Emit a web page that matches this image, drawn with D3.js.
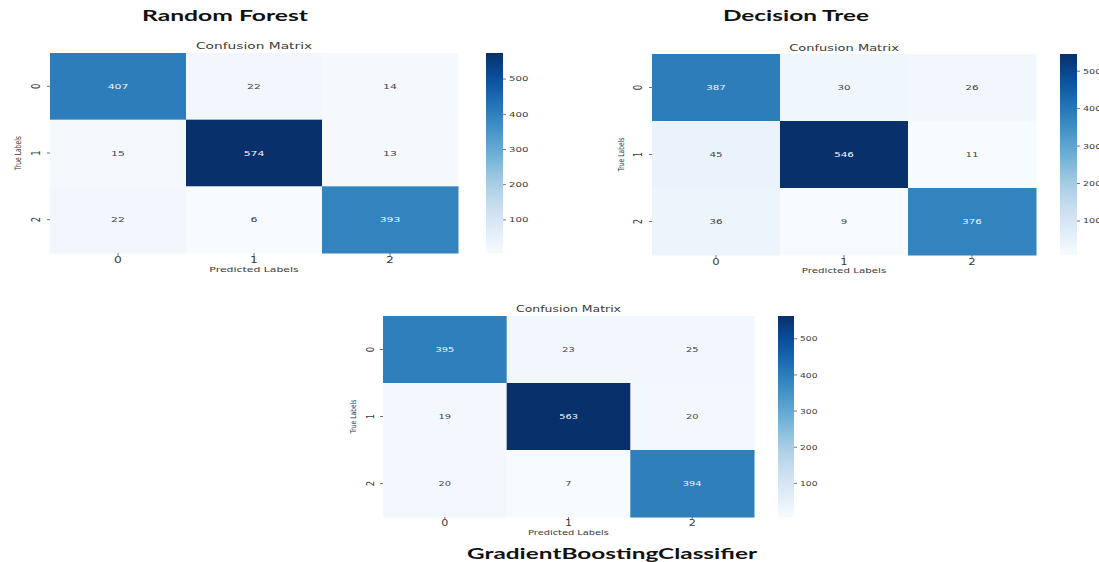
<!DOCTYPE html>
<html>
<head>
<meta charset="utf-8">
<script src="https://cdn.jsdelivr.net/npm/d3@7"></script>
<style>
  html, body { margin: 0; padding: 0; background: #ffffff; }
  svg { display: block; }
</style>
</head>
<body>
<svg id="chart" width="1099" height="562"></svg>
<script>
// ---------------- DATA ----------------
const classLabels = ["0", "1", "2"];
const modelNames = ["Random Forest", "Decision Tree", "GradientBoostingClassifier"];
const rfMatrix = [[407, 22, 14], [15, 574, 13], [22, 6, 393]];
const dtMatrix = [[387, 30, 26], [45, 546, 11], [36, 9, 376]];
const gbMatrix = [[395, 23, 25], [19, 563, 20], [20, 7, 394]];
const colorbarTicks = [100, 200, 300, 400, 500];
const subplotTitle = "Confusion Matrix";
const xAxisLabel = "Predicted Labels";
const yAxisLabel = "True Labels";

// ---------------- LAYOUT ----------------
const layouts = [
  { heat: [50, 458, 53, 253], cbar: [486, 17], k: 1.45, cmY: 46, xtY: 260, plY: 269, ytX: 35, tlX: 18,
    title: { x: 225, y: 15, w: 166, size: 15 } },
  { heat: [652, 1036, 54, 255], cbar: [1060, 17], k: 1.37, cmY: 48, xtY: 262, plY: 270, ytX: 638, tlX: 621,
    title: { x: 796, y: 15, w: 146, size: 15 } },
  { heat: [383, 754, 316, 517], cbar: [778, 16], k: 1.31, cmY: 309, xtY: 523, plY: 532, ytX: 370, tlX: 354,
    title: { x: 612, y: 553, w: 290, size: 15 } }
];
const matrices = [rfMatrix, dtMatrix, gbMatrix];

const svg = d3.select("#chart");
const defs = svg.append("defs");
const blues = d3.piecewise(d3.interpolateRgb, d3.schemeBlues[9]);
const textColor = "#3a3a3a";
const mplFont = "DejaVu Sans, sans-serif";

function luminance(c) {
  const rgb = d3.rgb(c);
  const f = v => { v /= 255; return v <= 0.03928 ? v / 12.92 : Math.pow((v + 0.055) / 1.055, 2.4); };
  return 0.2126 * f(rgb.r) + 0.7152 * f(rgb.g) + 0.0722 * f(rgb.b);
}

matrices.forEach((matrix, pi) => {
  const L = layouts[pi];
  const [x0, x1, y0, y1] = L.heat;
  const k = L.k;
  const g = svg.append("g");
  const flat = matrix.flat();
  const vmin = d3.min(flat), vmax = d3.max(flat);

  const x = d3.scaleBand().domain(classLabels).range([x0, x1]);
  const y = d3.scaleBand().domain(classLabels).range([y0, y1]);
  const color = d3.scaleSequential(blues).domain([vmin, vmax]);

  const cells = [];
  matrix.forEach((row, ri) => row.forEach((v, ci) => cells.push({ r: classLabels[ri], c: classLabels[ci], v })));

  // heatmap cells
  g.selectAll("rect.cell").data(cells).join("rect")
    .attr("class", "cell")
    .attr("x", d => x(d.c)).attr("y", d => y(d.r))
    .attr("width", x.bandwidth() + 0.5).attr("height", y.bandwidth() + 0.5)
    .attr("fill", d => color(d.v));

  // annotations
  g.selectAll("text.annot").data(cells).join("text")
    .attr("class", "annot")
    .attr("transform", d => `translate(${x(d.c) + x.bandwidth() / 2},${y(d.r) + y.bandwidth() / 2}) scale(${k},1)`)
    .attr("text-anchor", "middle").attr("dominant-baseline", "central")
    .attr("font-family", mplFont).attr("font-size", 7.5)
    .attr("fill", d => luminance(color(d.v)) < 0.408 ? "#eef5fc" : "#444444")
    .text(d => d.v);

  // x ticks
  classLabels.forEach(lbl => {
    const cx = x(lbl) + x.bandwidth() / 2;
    g.append("line").attr("x1", cx).attr("x2", cx).attr("y1", y1).attr("y2", y1 + 3)
      .attr("stroke", textColor).attr("stroke-width", 0.7);
    g.append("text")
      .attr("transform", `translate(${cx},${L.xtY}) scale(${k},1)`)
      .attr("text-anchor", "middle").attr("dominant-baseline", "central")
      .attr("font-family", mplFont).attr("font-size", 8.5).attr("fill", textColor)
      .text(lbl);
  });
  // y ticks
  classLabels.forEach(lbl => {
    const cy = y(lbl) + y.bandwidth() / 2;
    g.append("line").attr("x1", x0 - 3).attr("x2", x0).attr("y1", cy).attr("y2", cy)
      .attr("stroke", textColor).attr("stroke-width", 0.7);
    g.append("text")
      .attr("transform", `translate(${L.ytX},${cy}) scale(${k},1) rotate(-90)`)
      .attr("text-anchor", "middle").attr("dominant-baseline", "central")
      .attr("font-family", mplFont).attr("font-size", 8.5).attr("fill", textColor)
      .text(lbl);
  });

  // subplot title
  g.append("text")
    .attr("transform", `translate(${(x0 + x1) / 2},${L.cmY}) scale(${k},1)`)
    .attr("text-anchor", "middle").attr("dominant-baseline", "central")
    .attr("font-family", mplFont).attr("font-size", 9.5).attr("fill", textColor)
    .text(subplotTitle);
  // x label
  g.append("text")
    .attr("transform", `translate(${(x0 + x1) / 2},${L.plY}) scale(${k},1)`)
    .attr("text-anchor", "middle").attr("dominant-baseline", "central")
    .attr("font-family", mplFont).attr("font-size", 7.5).attr("fill", textColor)
    .text(xAxisLabel);
  // y label
  g.append("text")
    .attr("transform", `translate(${L.tlX},${(y0 + y1) / 2}) scale(${k},1) rotate(-90)`)
    .attr("text-anchor", "middle").attr("dominant-baseline", "central")
    .attr("font-family", mplFont).attr("font-size", 6).attr("fill", textColor)
    .text(yAxisLabel);

  // colorbar
  const [cbx, cbw] = L.cbar;
  const gradId = "grad" + pi;
  const grad = defs.append("linearGradient").attr("id", gradId)
    .attr("x1", 0).attr("y1", 1).attr("x2", 0).attr("y2", 0);
  d3.range(0, 1.0001, 0.05).forEach(t => {
    grad.append("stop").attr("offset", t).attr("stop-color", blues(t));
  });
  const cb = d3.scaleLinear().domain([vmin, vmax]).range([y1, y0]);
  g.append("rect").attr("x", cbx).attr("y", y0).attr("width", cbw).attr("height", y1 - y0)
    .attr("fill", `url(#${gradId})`);
  colorbarTicks.forEach(t => {
    const ty = cb(t);
    g.append("line").attr("x1", cbx + cbw).attr("x2", cbx + cbw + 3).attr("y1", ty).attr("y2", ty)
      .attr("stroke", textColor).attr("stroke-width", 0.7);
    g.append("text")
      .attr("transform", `translate(${cbx + cbw + 6},${ty}) scale(${k},1)`)
      .attr("text-anchor", "start").attr("dominant-baseline", "central")
      .attr("font-family", mplFont).attr("font-size", 7).attr("fill", textColor)
      .text(t);
  });

  // model title
  svg.append("text")
    .attr("x", L.title.x).attr("y", L.title.y)
    .attr("text-anchor", "middle").attr("dominant-baseline", "central")
    .attr("font-family", "Lato, 'Open Sans', sans-serif").attr("font-weight", 700)
    .attr("font-size", L.title.size).attr("fill", "#111111")
    .attr("textLength", L.title.w).attr("lengthAdjust", "spacingAndGlyphs")
    .text(modelNames[pi]);
});
</script>
</body>
</html>
